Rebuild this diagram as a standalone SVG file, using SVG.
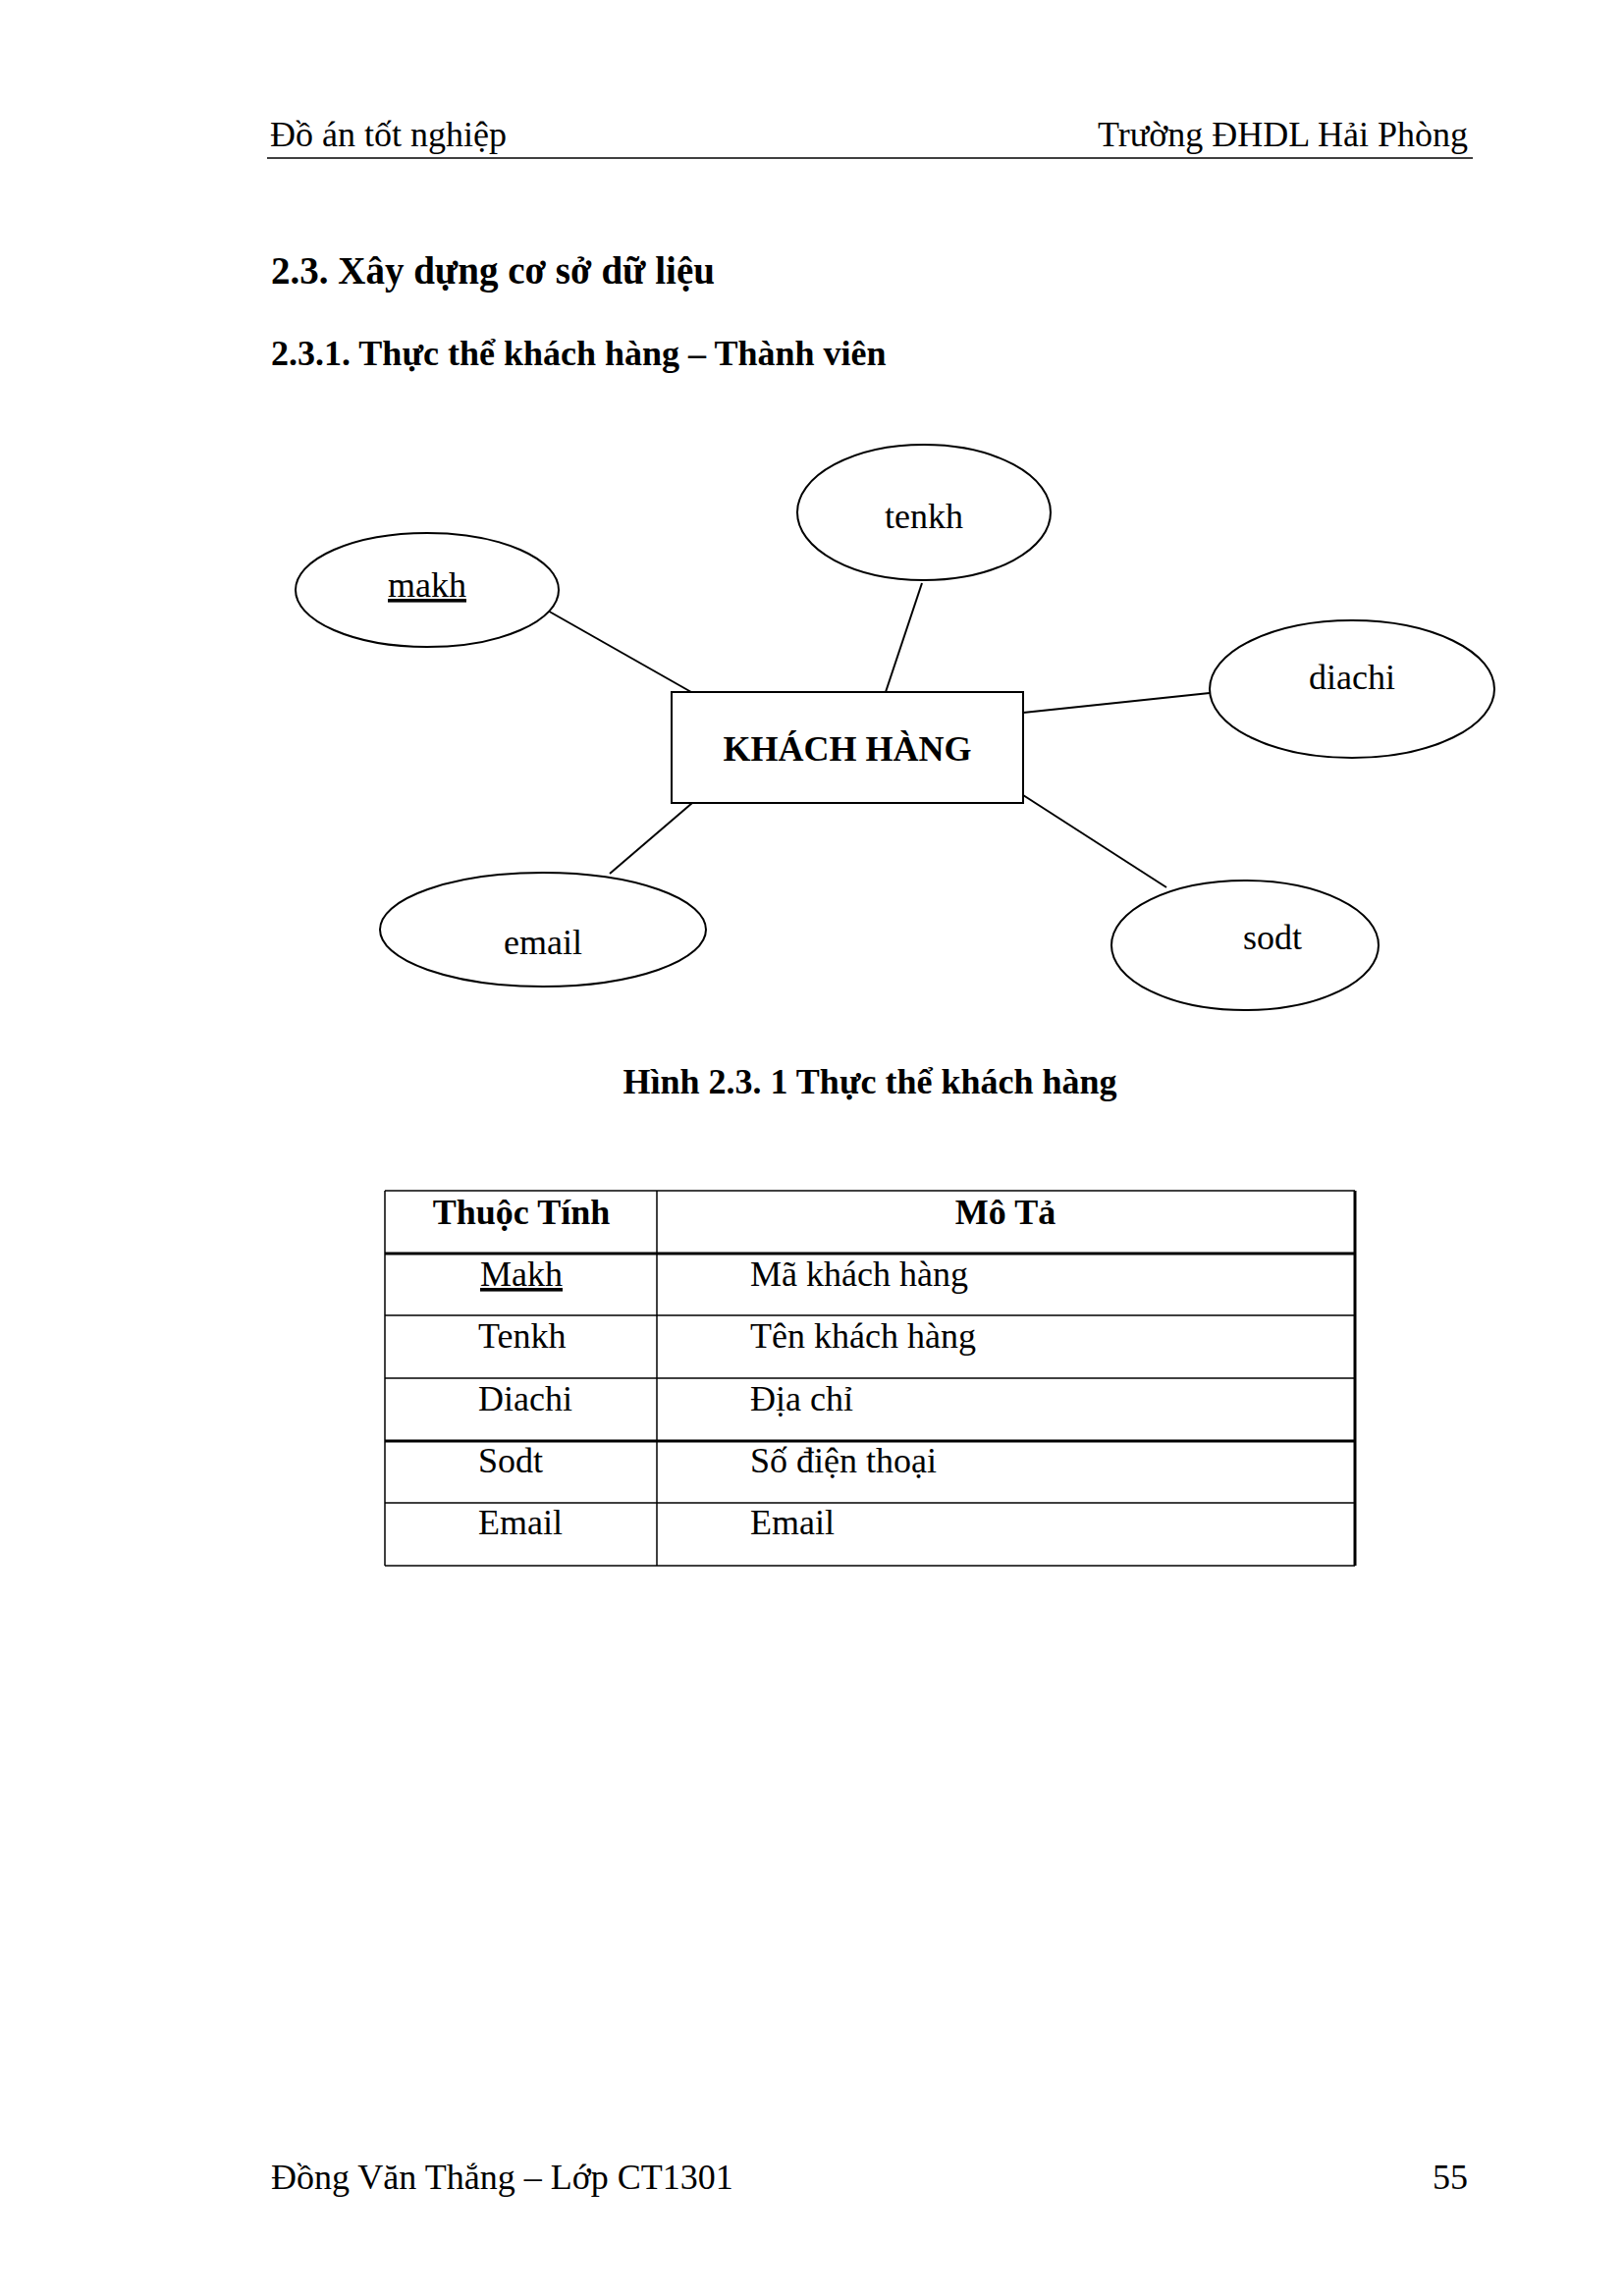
<svg xmlns="http://www.w3.org/2000/svg" width="1654" height="2339" viewBox="0 0 1654 2339">
<style>
text{font-family:"Liberation Serif","Times New Roman",serif;font-size:36px;fill:#000}
.b{font-weight:bold}
.h{font-size:39px;font-weight:bold}
.c{text-anchor:middle}
.e{text-anchor:end}
.shape{fill:#fff;stroke:#000;stroke-width:2}
.conn line{stroke:#000;stroke-width:2}
.tl{stroke:#000;stroke-width:1.5}
.tk{stroke:#000;stroke-width:3}
</style>
<rect width="1654" height="2339" fill="#fff"/>
<g id="header">
<text x="275" y="149">Đồ án tốt nghiệp</text>
<text class="e" x="1495" y="149">Trường ĐHDL Hải Phòng</text>
<line x1="272" y1="161" x2="1500" y2="161" stroke="#000" stroke-width="1.5"/>
</g>
<text class="h" x="276" y="289">2.3. Xây dựng cơ sở dữ liệu</text>
<text class="b" x="276" y="372">2.3.1. Thực thể khách hàng – Thành viên</text>
<g class="conn" id="connectors">
<line x1="556" y1="621" x2="704" y2="705"/>
<line x1="939" y1="594" x2="902" y2="705"/>
<line x1="1042" y1="726" x2="1232" y2="706"/>
<line x1="1042" y1="810" x2="1188" y2="904"/>
<line x1="705" y1="818" x2="621" y2="890"/>
</g>
<g id="khachhang">
<rect class="shape" x="684" y="705" width="358" height="113"/>
<text class="b c" x="863" y="775">KHÁCH HÀNG</text>
</g>
<g id="makh">
<ellipse class="shape" cx="435" cy="601" rx="134" ry="58"/>
<text class="c" x="435" y="608" text-decoration="underline">makh</text>
</g>
<g id="tenkh">
<ellipse class="shape" cx="941" cy="522" rx="129" ry="69"/>
<text class="c" x="941" y="538">tenkh</text>
</g>
<g id="diachi">
<ellipse class="shape" cx="1377" cy="702" rx="145" ry="70"/>
<text class="c" x="1377" y="702">diachi</text>
</g>
<g id="sodt">
<ellipse class="shape" cx="1268" cy="963" rx="136" ry="66"/>
<text class="c" x="1296" y="967">sodt</text>
</g>
<g id="email">
<ellipse class="shape" cx="553" cy="947" rx="166" ry="58"/>
<text class="c" x="553" y="972">email</text>
</g>
<text class="b c" x="886" y="1114">Hình 2.3. 1 Thực thể khách hàng</text>
<g id="table">
<line class="tl" x1="392" y1="1213" x2="1380" y2="1213"/>
<line class="tk" x1="392" y1="1277" x2="1380" y2="1277"/>
<line class="tl" x1="392" y1="1340" x2="1380" y2="1340"/>
<line class="tl" x1="392" y1="1404" x2="1380" y2="1404"/>
<line class="tk" x1="392" y1="1468" x2="1380" y2="1468"/>
<line class="tl" x1="392" y1="1531" x2="1380" y2="1531"/>
<line class="tl" x1="392" y1="1595" x2="1380" y2="1595"/>
<line class="tl" x1="392" y1="1213" x2="392" y2="1595"/>
<line class="tl" x1="669" y1="1213" x2="669" y2="1595"/>
<line class="tk" x1="1380" y1="1213" x2="1380" y2="1595"/>
<text class="b c" x="531" y="1247">Thuộc Tính</text>
<text class="b c" x="1024" y="1247">Mô Tả</text>
<text class="c" x="531" y="1310" text-decoration="underline">Makh</text>
<text x="764" y="1310">Mã khách hàng</text>
<text x="487" y="1373">Tenkh</text>
<text x="764" y="1373">Tên khách hàng</text>
<text x="487" y="1437">Diachi</text>
<text x="764" y="1437">Địa chỉ</text>
<text x="487" y="1500">Sodt</text>
<text x="764" y="1500">Số điện thoại</text>
<text x="487" y="1563">Email</text>
<text x="764" y="1563">Email</text>
</g>
<g id="footer">
<text x="276" y="2230">Đồng Văn Thắng – Lớp CT1301</text>
<text class="e" x="1495" y="2230">55</text>
</g>
</svg>
